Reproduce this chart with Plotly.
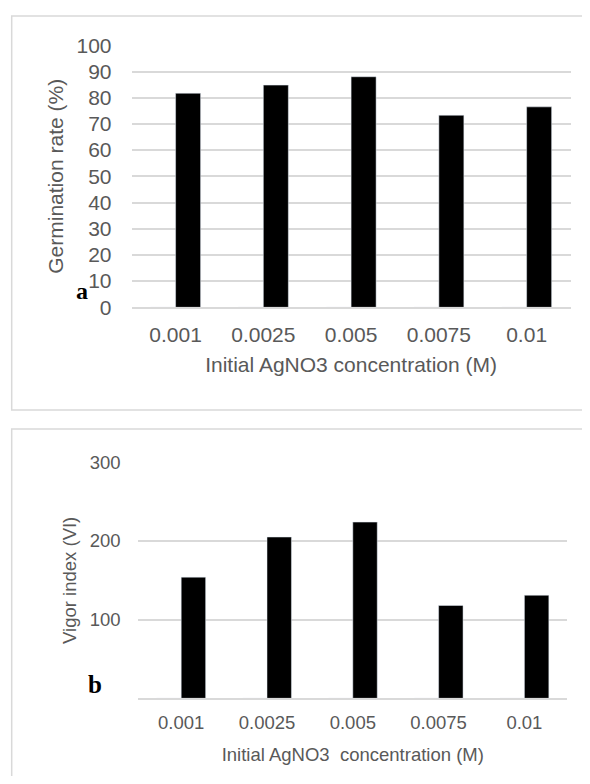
import plotly.graph_objects as go

categories = ["0.001", "0.0025", "0.005", "0.0075", "0.01"]
germination_rate = [81.7, 84.8, 88.0, 73.3, 76.5]
vigor_index = [154, 205, 224, 118, 131]
blank_series = [0, 0, 0, 0, 0]
germ_ticks = [0, 10, 20, 30, 40, 50, 60, 70, 80, 90, 100]
vigor_ticks = [100, 200, 300]

# page has an 8px body margin; figure sized to fit the 590x784 window
OFF = 8
W, H = 590 - 2 * OFF, 784 - 2 * OFF
GRAY = "#595959"
GRID = "#d9d9d9"
SANS = "Liberation Sans, Arial"
SERIF = "Liberation Serif, Times New Roman"

def fx(px):
    return (px - OFF) / W

def fy(py):
    return 1 - (py - OFF) / H

fig = go.Figure()

# Panel a
fig.add_trace(go.Bar(x=categories, y=blank_series, marker_color="#bfbfbf", xaxis="x", yaxis="y",
                     showlegend=False, hoverinfo="skip"))
fig.add_trace(go.Bar(x=categories, y=germination_rate, marker_color="#000000", xaxis="x", yaxis="y",
                     showlegend=False, name="Germination rate"))
# Panel b
fig.add_trace(go.Bar(x=categories, y=blank_series, marker_color="#bfbfbf", xaxis="x2", yaxis="y2",
                     showlegend=False, hoverinfo="skip"))
fig.add_trace(go.Bar(x=categories, y=vigor_index, marker_color="#000000", xaxis="x2", yaxis="y2",
                     showlegend=False, name="Vigor index"))

font_a = dict(family=SANS, size=21, color=GRAY)
font_b = dict(family=SANS, size=18.5, color=GRAY)

fig.update_layout(
    width=W, height=H,
    margin=dict(l=0, r=0, t=0, b=0, autoexpand=False),
    paper_bgcolor="white", plot_bgcolor="white",
    barmode="group", bargap=0.43, bargroupgap=0,
    xaxis=dict(domain=[fx(131.7), fx(570.5)], anchor="y", tickfont=font_a, automargin=False,
               showgrid=False, showline=True, linecolor=GRID, linewidth=1.5,
               ticks="outside", ticklen=8, tickcolor="rgba(0,0,0,0)",
               title=dict(text="Initial AgNO3 concentration (M)", font=font_a, standoff=12)),
    yaxis=dict(domain=[fy(307.3), fy(45.3)], anchor="x", range=[0, 100], tickvals=germ_ticks,
               automargin=False, tickfont=font_a,
               showgrid=True, gridcolor=GRID, gridwidth=1.5, zeroline=False, showline=False,
               ticks="outside", ticklen=15, tickcolor="rgba(0,0,0,0)",
               title=dict(text="Germination rate (%)", font=font_a, standoff=7)),
    xaxis2=dict(domain=[fx(138.3), fx(567.3)], anchor="y2", tickfont=font_b, automargin=False,
                showgrid=False, showline=True, linecolor=GRID, linewidth=1.5,
                ticks="outside", ticklen=7, tickcolor="rgba(0,0,0,0)",
                title=dict(text="Initial AgNO3  concentration (M)", font=font_b, standoff=16)),
    yaxis2=dict(domain=[fy(698.3), fy(462.3)], anchor="x2", range=[0, 300], tickvals=vigor_ticks,
                tickfont=font_b, automargin=False,
                showgrid=True, gridcolor=GRID, gridwidth=1.5, zeroline=False, showline=False,
                ticks="outside", ticklen=13, tickcolor="rgba(0,0,0,0)",
                title=dict(text="Vigor index (VI)", font=font_b, standoff=8)),
    shapes=[
        dict(type="rect", xref="paper", yref="paper", x0=fx(11.7), x1=fx(600), y0=fy(410), y1=fy(16),
             line=dict(color=GRID, width=1.5)),
        dict(type="rect", xref="paper", yref="paper", x0=fx(11.7), x1=fx(600), y0=fy(800), y1=fy(429),
             line=dict(color=GRID, width=1.5)),
    ],
    annotations=[
        dict(text="<b>a</b>", xref="paper", yref="paper", x=fx(88.5), y=fy(291), showarrow=False,
             xanchor="right", borderpad=0,
             font=dict(family=SERIF, size=24, color="#000000")),
        dict(text="<b>b</b>", xref="paper", yref="paper", x=fx(85.5), y=fy(699.5), showarrow=False,
             font=dict(family=SERIF, size=25, color="#000000")),
    ],
)

fig.write_html("out.html")
